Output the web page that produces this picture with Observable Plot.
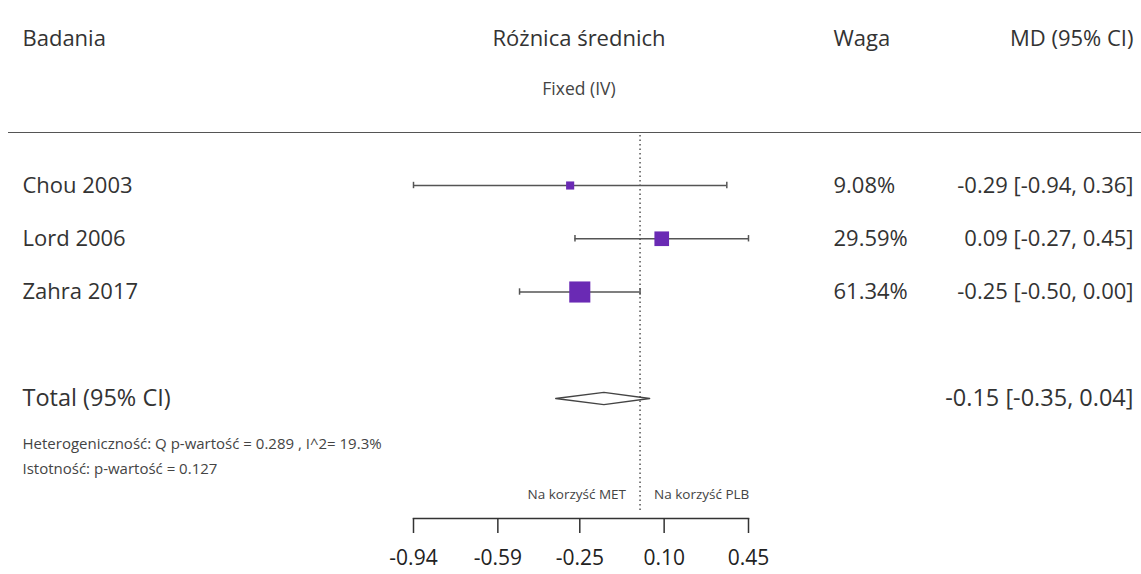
<!DOCTYPE html>
<html><head><meta charset="utf-8">
<script src="https://cdn.jsdelivr.net/npm/d3@7"></script>
<script src="https://cdn.jsdelivr.net/npm/@observablehq/plot@0.6"></script>
<style>html,body{margin:0;padding:0;background:#fff}</style>
</head><body><div id="chart"></div>
<script>
// ---- data ----
const studies = ["Chou 2003", "Lord 2006", "Zahra 2017"];
const meanDiff = [-0.29, 0.09, -0.25];
const ciLow = [-0.94, -0.27, -0.50];
const ciHigh = [0.36, 0.45, 0.00];
const weights = [9.08, 29.59, 61.34];
const totalLabel = "Total (95% CI)";
const totalMD = -0.15, totalLow = -0.35, totalHigh = 0.04;
const xTicks = [-0.94, -0.59, -0.25, 0.10, 0.45];
const headerStudy = "Badania", headerPlot = "Różnica średnich", headerModel = "Fixed (IV)";
const headerWeight = "Waga", headerMD = "MD (95% CI)";
const heterogeneity = "Heterogeniczność: Q p-wartość = 0.289 , I^2= 19.3%";
const significance = "Istotność: p-wartość = 0.127";
const favLeft = "Na korzyść MET", favRight = "Na korzyść PLB";

// ---- tables built from the arrays ----
const f2 = v => v.toFixed(2);
const rows = studies.map((s, i) => ({
  i, study: s, md: meanDiff[i], lo: ciLow[i], hi: ciHigh[i], w: weights[i],
  wText: f2(weights[i]) + "%", ciText: `${f2(meanDiff[i])} [${f2(ciLow[i])}, ${f2(ciHigh[i])}]`
}));
const ti = studies.length + 1;
const totalRow = [{i: ti, study: totalLabel, ciText: `${f2(totalMD)} [${f2(totalLow)}, ${f2(totalHigh)}]`}];
const dh = 0.115; // diamond half-height in row units
const diamond = [
  {x: totalLow, y: ti}, {x: totalMD, y: ti - dh}, {x: totalHigh, y: ti},
  {x: totalMD, y: ti + dh}, {x: totalLow, y: ti}
];
const capH = 0.06;

const txt = "#333";
const font = "'Open Sans', sans-serif";
const ML = 413;

const chart = Plot.plot({
  width: 1141, height: 574,
  marginLeft: ML, marginRight: 393, marginTop: 132, marginBottom: 56,
  x: {domain: [-0.94, 0.45]},
  y: {domain: [0, 4], range: [185, 398], axis: null},
  r: {type: "sqrt", domain: [0, d3.max(weights)], range: [0, 11.9]},
  style: {fontFamily: font, background: "#fff", color: txt},
  marks: [
    // header rule and axis baseline
    Plot.frame({anchor: "top", insetLeft: -405, insetRight: -393, stroke: "#555", strokeWidth: 1}),
    Plot.frame({anchor: "bottom", stroke: "#333", strokeWidth: 1.5}),
    // zero line
    Plot.ruleX([0], {stroke: "#555", strokeWidth: 1.5, strokeDasharray: "1.5,3", insetTop: 3, insetBottom: 6}),
    // CI lines + caps
    Plot.ruleY(rows, {y: "i", x1: "lo", x2: "hi", stroke: "#555", strokeWidth: 1.5}),
    Plot.ruleX(rows, {x: "lo", y1: d => d.i - capH, y2: d => d.i + capH, stroke: "#555", strokeWidth: 1.5}),
    Plot.ruleX(rows, {x: "hi", y1: d => d.i - capH, y2: d => d.i + capH, stroke: "#555", strokeWidth: 1.5}),
    Plot.dot(rows, {x: "md", y: "i", r: "w", symbol: "square", fill: "#6a2ab4", stroke: "none"}),
    // total diamond
    Plot.line(diamond, {x: "x", y: "y", stroke: "#444", strokeWidth: 1.3, fill: "none"}),
    // axis
    Plot.axisX(xTicks, {anchor: "bottom", tickSize: 15, tickPadding: 17, tickFormat: d => d.toFixed(2),
      fontSize: 21, stroke: "#333", strokeWidth: 1.5, fill: "#222"}),
    // row texts
    Plot.text(rows, {y: "i", text: "study", frameAnchor: "left", dx: 22 - ML, textAnchor: "start", fontSize: 22, fill: txt}),
    Plot.text(rows, {y: "i", text: "wText", frameAnchor: "left", dx: 833 - ML, textAnchor: "start", fontSize: 22, fill: txt}),
    Plot.text(rows, {y: "i", text: "ciText", frameAnchor: "right", dx: 385, textAnchor: "end", fontSize: 22, fill: txt}),
    Plot.text(totalRow, {y: "i", text: "study", frameAnchor: "left", dx: 22 - ML, textAnchor: "start", fontSize: 23.5, fill: txt}),
    Plot.text(totalRow, {y: "i", text: "ciText", frameAnchor: "right", dx: 385, textAnchor: "end", fontSize: 23.5, fill: txt}),
    // headers
    Plot.text([headerStudy], {frameAnchor: "top-left", dx: 22 - ML, dy: -102, textAnchor: "start", fontSize: 22, fill: txt}),
    Plot.text([headerPlot], {frameAnchor: "top", dx: -2, dy: -102, textAnchor: "middle", fontSize: 22, fill: txt}),
    Plot.text([headerModel], {frameAnchor: "top", dx: -2, dy: -50, textAnchor: "middle", fontSize: 17.5, fill: "#444"}),
    Plot.text([headerWeight], {frameAnchor: "top-left", dx: 833 - ML, dy: -102, textAnchor: "start", fontSize: 22, fill: txt}),
    Plot.text([headerMD], {frameAnchor: "top-right", dx: 385, dy: -102, textAnchor: "end", fontSize: 22, fill: txt}),
    // notes
    Plot.text([heterogeneity], {frameAnchor: "bottom-left", dx: 22 - ML, dy: 448 - 518, textAnchor: "start", fontSize: 15, fill: "#444"}),
    Plot.text([significance], {frameAnchor: "bottom-left", dx: 22 - ML, dy: 473 - 518, textAnchor: "start", fontSize: 15, fill: "#444"}),
    // favours labels
    Plot.text([favLeft], {x: () => 0, frameAnchor: "bottom", dx: -14, dy: -20, textAnchor: "end", fontSize: 13.5, fill: "#444"}),
    Plot.text([favRight], {x: () => 0, frameAnchor: "bottom", dx: 14, dy: -20, textAnchor: "start", fontSize: 13.5, fill: "#444"})
  ]
});
document.getElementById("chart").appendChild(chart);
</script>
</body></html>
